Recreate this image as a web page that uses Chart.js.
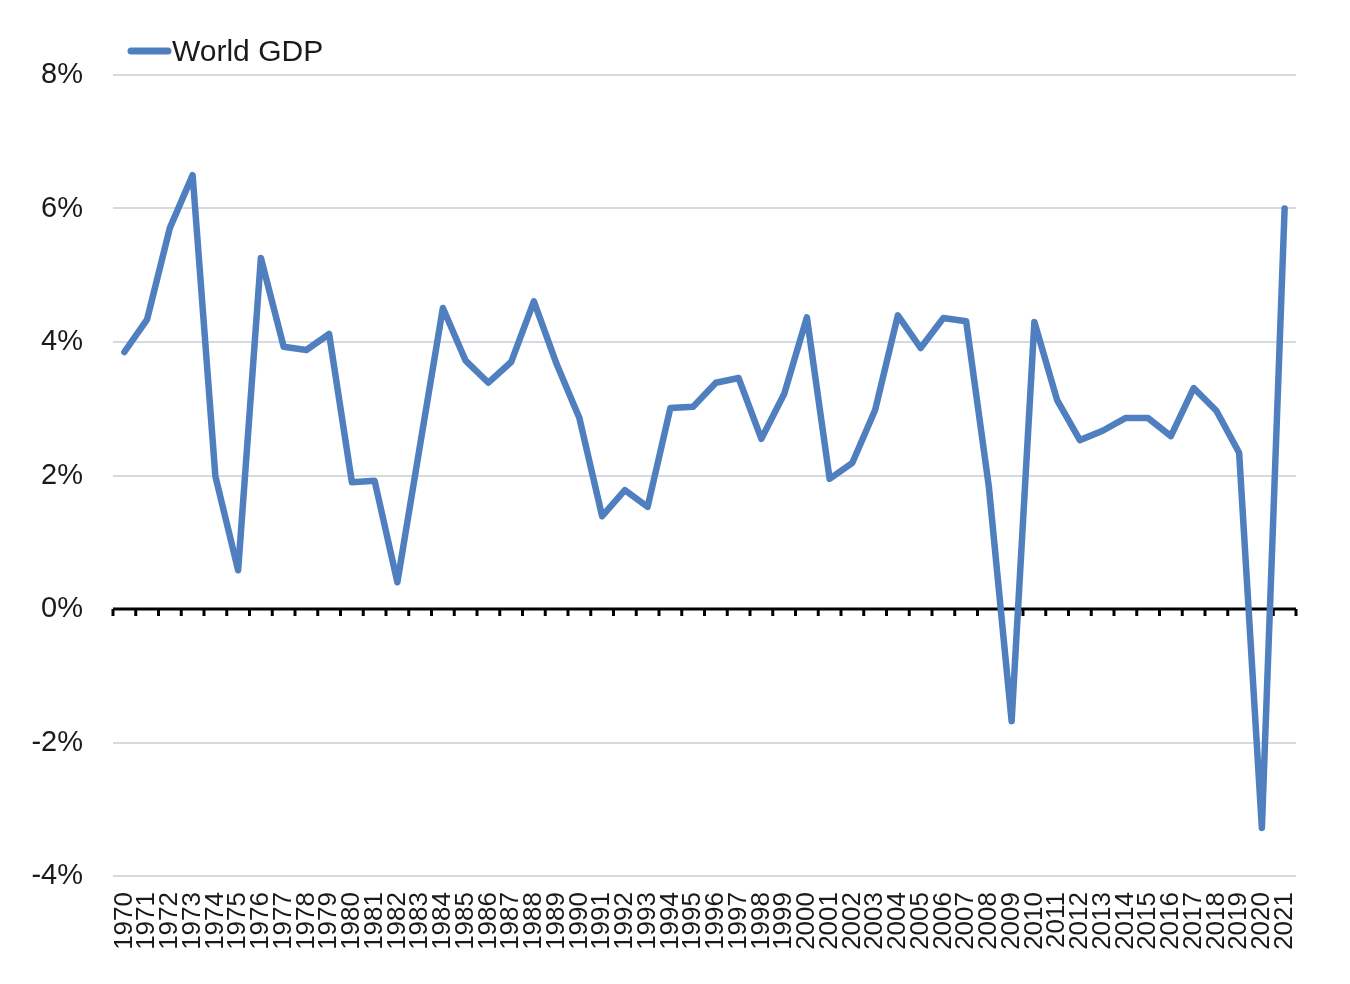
<!DOCTYPE html>
<html>
<head>
<meta charset="utf-8">
<script src="https://cdn.jsdelivr.net/npm/chart.js@4"></script>
<style>
  html, body { margin: 0; padding: 0; background: #ffffff; }
  #wrap { width: 1350px; height: 984px; }
</style>
</head>
<body>
<div id="wrap"><canvas id="c" width="1350" height="984"></canvas></div>
<script>
const years = ["1970","1971","1972","1973","1974","1975","1976","1977","1978","1979",
  "1980","1981","1982","1983","1984","1985","1986","1987","1988","1989",
  "1990","1991","1992","1993","1994","1995","1996","1997","1998","1999",
  "2000","2001","2002","2003","2004","2005","2006","2007","2008","2009",
  "2010","2011","2012","2013","2014","2015","2016","2017","2018","2019",
  "2020","2021"];
const worldGdp = [3.85, 4.34, 5.71, 6.50, 1.99, 0.58, 5.26, 3.93, 3.88, 4.12,
  1.90, 1.92, 0.40, 2.46, 4.51, 3.72, 3.39, 3.70, 4.61, 3.67,
  2.86, 1.39, 1.78, 1.53, 3.01, 3.03, 3.39, 3.46, 2.55, 3.22,
  4.37, 1.95, 2.19, 2.98, 4.40, 3.91, 4.36, 4.31, 1.83, -1.68,
  4.30, 3.13, 2.53, 2.67, 2.86, 2.86, 2.59, 3.31, 2.97, 2.34,
  -3.28, 6.00];
const seriesLabel = "World GDP";
const yMin = -4, yMax = 8, yStep = 2;

const FONT = "'Liberation Sans', Arial, Helvetica, sans-serif";
const LINE_COLOR = '#4f7fbf';
const TEXT_COLOR = '#1a1a1a';

const zeroLinePlugin = {
  id: 'zeroLine',
  beforeDatasetsDraw(chart) {
    const ctx = chart.ctx, xs = chart.scales.x, ys = chart.scales.y;
    const y0 = ys.getPixelForValue(0);
    const n = chart.data.labels.length;
    const w = (xs.right - xs.left) / n;
    ctx.save();
    ctx.strokeStyle = '#000000';
    ctx.lineWidth = 3;
    ctx.lineCap = 'butt';
    ctx.beginPath();
    ctx.moveTo(xs.left, y0);
    ctx.lineTo(xs.right, y0);
    for (let i = 0; i <= n; i++) {
      const x = xs.left + i * w;
      ctx.moveTo(x, y0);
      ctx.lineTo(x, y0 + 7);
    }
    ctx.stroke();
    ctx.restore();
  }
};

const legendPlugin = {
  id: 'customLegend',
  afterDraw(chart) {
    const ctx = chart.ctx;
    const ds = chart.data.datasets[0];
    ctx.save();
    ctx.strokeStyle = ds.borderColor;
    ctx.lineWidth = 7;
    ctx.lineCap = 'round';
    ctx.beginPath();
    ctx.moveTo(131, 51);
    ctx.lineTo(168, 51);
    ctx.stroke();
    ctx.fillStyle = TEXT_COLOR;
    ctx.font = '30px ' + FONT;
    ctx.textBaseline = 'alphabetic';
    ctx.textAlign = 'left';
    ctx.fillText(ds.label, 172, 61);
    ctx.restore();
  }
};

new Chart(document.getElementById('c'), {
  type: 'line',
  data: {
    labels: years,
    datasets: [{
      label: seriesLabel,
      data: worldGdp,
      borderColor: LINE_COLOR,
      backgroundColor: LINE_COLOR,
      borderWidth: 6.5,
      pointRadius: 0,
      pointHoverRadius: 0,
      tension: 0,
      borderJoinStyle: 'round',
      borderCapStyle: 'round',
      fill: false
    }]
  },
  options: {
    responsive: false,
    devicePixelRatio: 1,
    animation: false,
    layout: { padding: { top: 75, left: 0, right: 54, bottom: 0 } },
    plugins: {
      legend: { display: false },
      tooltip: { enabled: false }
    },
    scales: {
      x: {
        type: 'category',
        offset: true,
        grid: { display: false, drawTicks: false },
        border: { display: false },
        ticks: {
          autoSkip: false,
          minRotation: 90,
          maxRotation: 90,
          padding: 16,
          color: TEXT_COLOR,
          font: { family: FONT, size: 26 }
        },
        afterFit(scale) { scale.height = 108; }
      },
      y: {
        min: yMin,
        max: yMax,
        grid: {
          drawTicks: false,
          lineWidth: 2,
          color: (c) => (c.tick && c.tick.value === 0) ? 'rgba(0,0,0,0)' : '#d5dae1'
        },
        border: { display: false },
        ticks: {
          stepSize: yStep,
          padding: 30,
          color: TEXT_COLOR,
          font: { family: FONT, size: 29 },
          callback: (v) => v + '%'
        },
        afterFit(scale) { scale.width = 113; }
      }
    }
  },
  plugins: [zeroLinePlugin, legendPlugin]
});
</script>
</body>
</html>
